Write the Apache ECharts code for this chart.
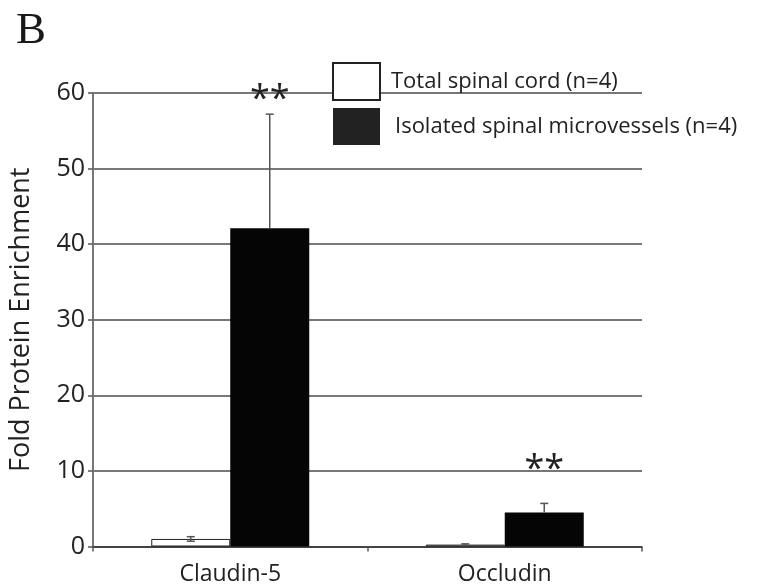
<!DOCTYPE html>
<html>
<head>
<meta charset="utf-8">
<script src="https://cdn.jsdelivr.net/npm/echarts@6/dist/echarts.min.js"></script>
<style>
html,body{margin:0;padding:0;background:#fff;}
#chart{width:758px;height:588px;}
</style>
</head>
<body>
<div id="chart"></div>
<script>
const categories = ['Claudin-5', 'Occludin'];
const totalSpinal = [1.0, 0.25];
const totalSpinalErr = [0.3, 0.1];
const microvessels = [42.1, 4.5];
const microvesselsErr = [15.1, 1.2];
const significance = ['**', '**'];
const significanceLevel = [60.2, 11.2];
const yTicks = [0, 10, 20, 30, 40, 50, 60];
const seriesNames = ['Total spinal cord (n=4)', 'Isolated spinal microvessels (n=4)'];

const FONT = '"Open Sans", "Noto Sans", sans-serif';
const BAR_W = 79;

const chart = echarts.init(document.getElementById('chart'), null, {renderer: 'canvas'});

const errData = [];
categories.forEach((c, i) => {
  errData.push([i, totalSpinal[i], totalSpinalErr[i], -1, 1]);
  errData.push([i, microvessels[i], microvesselsErr[i], 1, 0]);
});
const starData = categories.map((c, i) => [i, significanceLevel[i]]);

function renderErr(params, api) {
  const xi = api.value(0), v = api.value(1), e = api.value(2), side = api.value(3), both = api.value(4);
  const c = api.coord([xi, v]);
  const x = c[0] + side * BAR_W / 2;
  const top = api.coord([xi, v + e])[1];
  const bot = both ? api.coord([xi, v - e])[1] : c[1];
  const st = {stroke: '#555', lineWidth: 1.5};
  const children = [
    {type: 'line', shape: {x1: x, y1: bot, x2: x, y2: top}, style: st},
    {type: 'line', shape: {x1: x - 4, y1: top, x2: x + 4, y2: top}, style: st}
  ];
  if (both) children.push({type: 'line', shape: {x1: x - 4, y1: bot, x2: x + 4, y2: bot}, style: st});
  return {type: 'group', children: children};
}

function renderStar(params, api) {
  const xi = api.value(0), v = api.value(1);
  const c = api.coord([xi, v]);
  return {
    type: 'text',
    x: c[0] + BAR_W / 2,
    y: c[1] + 8,
    style: {text: significance[params.dataIndex], fontFamily: FONT, fontSize: 36, fill: '#222', align: 'center', verticalAlign: 'middle'}
  };
}

chart.setOption({
  animation: false,
  backgroundColor: '#fff',
  title: {
    text: 'B', left: 11, top: 4,
    textStyle: {fontFamily: '"Liberation Serif", "DejaVu Serif", serif', fontSize: 45, fontWeight: 'normal', color: '#1a1a1a'}
  },
  legend: {
    orient: 'vertical', left: 332, top: 62, padding: 0,
    itemWidth: 47, itemHeight: 37, itemGap: 7,
    icon: 'rect',
    textStyle: {fontFamily: FONT, fontSize: 22, color: '#222'},
    data: [
      {name: seriesNames[0], itemStyle: {color: '#fff', borderColor: '#222', borderWidth: 2},
       textStyle: {padding: [0, 0, 0, 6]}},
      {name: seriesNames[1], itemStyle: {color: '#222', borderWidth: 0},
       textStyle: {padding: [0, 0, 0, 10]}}
    ]
  },
  grid: {left: 91, right: 116, top: 93, bottom: 41.5, containLabel: false},
  xAxis: {
    type: 'category',
    data: categories,
    axisLine: {lineStyle: {color: '#333', width: 1.5}},
    axisTick: {show: true, length: 5, lineStyle: {color: '#555', width: 1.5}},
    axisLabel: {fontFamily: FONT, fontSize: 23, color: '#222', margin: 16}
  },
  yAxis: {
    type: 'value', min: yTicks[0], max: yTicks[yTicks.length - 1], interval: 10,
    name: 'Fold Protein Enrichment', nameLocation: 'middle', nameGap: 58,
    nameTextStyle: {fontFamily: FONT, fontSize: 27, color: '#222'},
    axisLine: {show: true, lineStyle: {color: '#777', width: 2}},
    axisTick: {show: true, length: 5, lineStyle: {color: '#555', width: 1.5}},
    axisLabel: {fontFamily: FONT, fontSize: 25, color: '#222', margin: 8},
    splitLine: {show: true, lineStyle: {color: '#4a4a4a', width: 1.5}}
  },
  series: [
    {
      name: seriesNames[0], type: 'bar', data: totalSpinal,
      barWidth: BAR_W, barGap: '0%',
      itemStyle: {color: '#fff', borderColor: '#222', borderWidth: 1}
    },
    {
      name: seriesNames[1], type: 'bar', data: microvessels,
      barWidth: BAR_W, barGap: '0%',
      itemStyle: {color: '#050505'}
    },
    {type: 'custom', renderItem: renderErr, data: errData, z: 5, silent: true},
    {type: 'custom', renderItem: renderStar, data: starData, z: 6, silent: true}
  ]
});
</script>
</body>
</html>
